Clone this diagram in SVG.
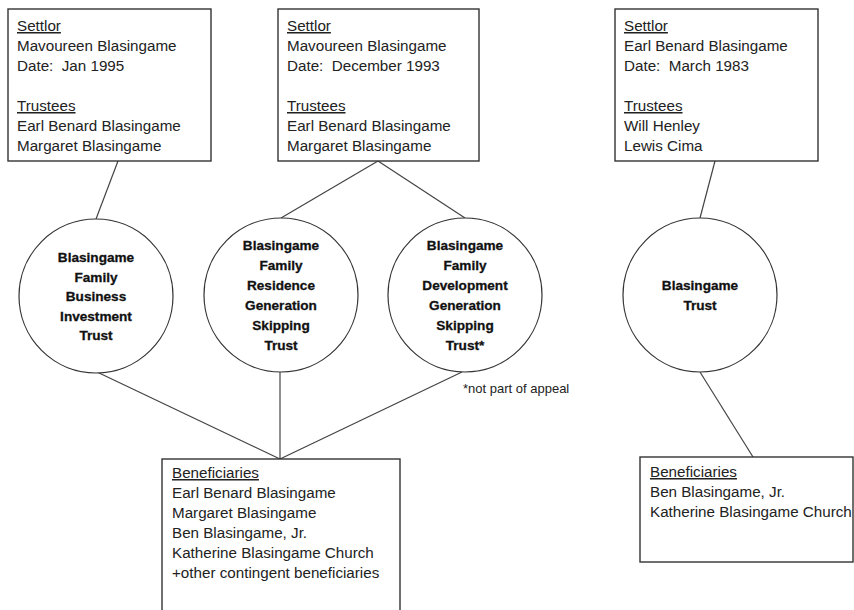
<svg xmlns="http://www.w3.org/2000/svg" width="854" height="610" viewBox="0 0 854 610">
<style>
.box{fill:#fff;stroke:#333;stroke-width:1.4}
.circ{fill:#fff;stroke:#333;stroke-width:1.2}
.con line{stroke:#444;stroke-width:1.2}
.t{font-family:"Liberation Sans",Arial,sans-serif;font-size:15.2px;fill:#222;white-space:pre}
.u{text-decoration:underline}
.b{font-family:"Liberation Sans",Arial,sans-serif;font-size:13.6px;font-weight:bold;fill:#111;stroke:#111;stroke-width:0.3;text-anchor:middle}
.n{font-family:"Liberation Sans",Arial,sans-serif;font-size:13px;fill:#222}
</style>
<rect width="854" height="610" fill="#fff"/>
<g class="con">
<line x1="118" y1="161" x2="96" y2="219"/>
<line x1="378" y1="161" x2="281" y2="218"/>
<line x1="378" y1="161" x2="465" y2="218"/>
<line x1="715" y1="161" x2="700" y2="218"/>
<line x1="97" y1="372" x2="280" y2="459"/>
<line x1="280" y1="372" x2="280" y2="459"/>
<line x1="462" y1="372" x2="280" y2="459"/>
<line x1="700" y1="372" x2="753" y2="457"/>
</g>
<g id="settlor1">
<rect class="box" x="8" y="9" width="203" height="152"/>
<text class="t u" x="17" y="31">Settlor</text>
<text class="t" x="17" y="51">Mavoureen Blasingame</text>
<text class="t" x="17" y="71" xml:space="preserve">Date:  Jan 1995</text>
<text class="t u" x="17" y="111">Trustees</text>
<text class="t" x="17" y="131">Earl Benard Blasingame</text>
<text class="t" x="17" y="151">Margaret Blasingame</text>
</g>
<g id="settlor2">
<rect class="box" x="278" y="9" width="201" height="152"/>
<text class="t u" x="287" y="31">Settlor</text>
<text class="t" x="287" y="51">Mavoureen Blasingame</text>
<text class="t" x="287" y="71" xml:space="preserve">Date:  December 1993</text>
<text class="t u" x="287" y="111">Trustees</text>
<text class="t" x="287" y="131">Earl Benard Blasingame</text>
<text class="t" x="287" y="151">Margaret Blasingame</text>
</g>
<g id="settlor3">
<rect class="box" x="615" y="9" width="203" height="152"/>
<text class="t u" x="624" y="31">Settlor</text>
<text class="t" x="624" y="51">Earl Benard Blasingame</text>
<text class="t" x="624" y="71" xml:space="preserve">Date:  March 1983</text>
<text class="t u" x="624" y="111">Trustees</text>
<text class="t" x="624" y="131">Will Henley</text>
<text class="t" x="624" y="151">Lewis Cima</text>
</g>
<g id="trust1">
<circle class="circ" cx="96" cy="296" r="77"/>
<text class="b" x="96" y="262">Blasingame</text>
<text class="b" x="96" y="281.5">Family</text>
<text class="b" x="96" y="301">Business</text>
<text class="b" x="96" y="320.5">Investment</text>
<text class="b" x="96" y="340">Trust</text>
</g>
<g id="trust2">
<circle class="circ" cx="281" cy="295" r="77"/>
<text class="b" x="281" y="250">Blasingame</text>
<text class="b" x="281" y="270">Family</text>
<text class="b" x="281" y="290">Residence</text>
<text class="b" x="281" y="310">Generation</text>
<text class="b" x="281" y="330">Skipping</text>
<text class="b" x="281" y="350">Trust</text>
</g>
<g id="trust3">
<circle class="circ" cx="465" cy="295" r="77"/>
<text class="b" x="465" y="250">Blasingame</text>
<text class="b" x="465" y="270">Family</text>
<text class="b" x="465" y="290">Development</text>
<text class="b" x="465" y="310">Generation</text>
<text class="b" x="465" y="330">Skipping</text>
<text class="b" x="465" y="350">Trust*</text>
</g>
<g id="note">
<text class="n" x="463" y="393">*not part of appeal</text>
</g>
<g id="trust4">
<circle class="circ" cx="700" cy="295" r="77"/>
<text class="b" x="700" y="290">Blasingame</text>
<text class="b" x="700" y="310">Trust</text>
</g>
<g id="beneficiaries1">
<rect class="box" x="162" y="459" width="238" height="160"/>
<text class="t u" x="172" y="478">Beneficiaries</text>
<text class="t" x="172" y="498">Earl Benard Blasingame</text>
<text class="t" x="172" y="518">Margaret Blasingame</text>
<text class="t" x="172" y="538">Ben Blasingame, Jr.</text>
<text class="t" x="172" y="558">Katherine Blasingame Church</text>
<text class="t" x="172" y="578">+other contingent beneficiaries</text>
</g>
<g id="beneficiaries2">
<rect class="box" x="640" y="457" width="213" height="105"/>
<text class="t u" x="650" y="477">Beneficiaries</text>
<text class="t" x="650" y="497">Ben Blasingame, Jr.</text>
<text class="t" x="650" y="517">Katherine Blasingame Church</text>
</g>
</svg>
